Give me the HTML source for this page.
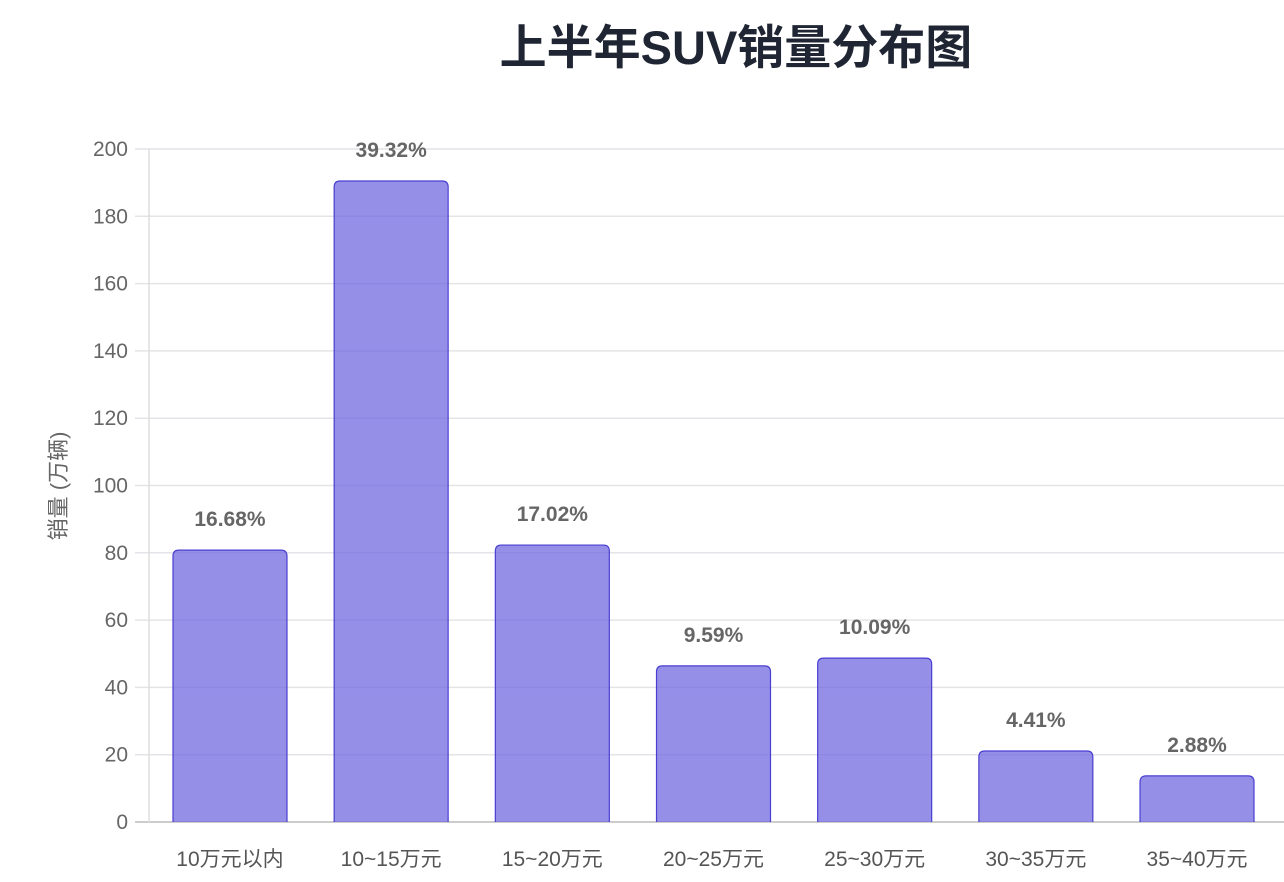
<!DOCTYPE html>
<html><head><meta charset="utf-8"><style>
body{margin:0;background:#fff;}
svg{display:block;font-family:"Liberation Sans","Noto Sans CJK SC",sans-serif;}
</style></head><body>
<svg id="c" width="1284" height="882">
<text x="736" y="64" text-anchor="middle" font-size="47" font-weight="bold" fill="#1f2533">上半年SUV销量分布图</text>
<text transform="translate(66,486) rotate(-90)" text-anchor="middle" font-size="22" fill="#666">销量 (万辆)</text>
<g id="grid"></g><g id="bars"></g><g id="labels"></g>
</svg>
<script>
const categories=["10万元以内","10~15万元","15~20万元","20~25万元","25~30万元","30~35万元","35~40万元"];
const values=[80.8,190.5,82.3,46.4,48.7,21.1,13.7];
const pctLabels=["16.68%","39.32%","17.02%","9.59%","10.09%","4.41%","2.88%"];
const yTicks=[0,20,40,60,80,100,120,140,160,180,200];
const ns="http://www.w3.org/2000/svg";
const L=149.4,R=1277.6,GR=1284,T=149,B=822,yMax=200;
const y=v=>B-(v/yMax)*(B-T);
const band=(R-L)/categories.length;
const xc=i=>L+band*(i+0.5);
function mk(t,a,p){const e=document.createElementNS(ns,t);for(const k in a)e.setAttribute(k,a[k]);p.appendChild(e);return e;}
const g=document.getElementById('grid'),b=document.getElementById('bars'),lb=document.getElementById('labels');
yTicks.forEach(v=>{
 const ln=mk('line',{x1:135,x2:GR,y1:y(v),y2:y(v),stroke:v===0?'#ccc':'#e4e4e8','stroke-width':v===0?2:1.5},g);
 
 
 const t=mk('text',{x:128,y:y(v)+7,'text-anchor':'end','font-size':21,fill:'#666'},g);
 t.textContent=v;
 
 
});
const ax=mk('line',{x1:149,x2:149,y1:T,y2:B,stroke:'#ddd','stroke-width':1.5},g);


const bw=114;
values.forEach((v,i)=>{
 const x=xc(i)-bw/2;
 const r=mk('path',{d:`M${x},${B} V${y(v)+6} Q${x},${y(v)} ${x+6},${y(v)} H${x+bw-6} Q${x+bw},${y(v)} ${x+bw},${y(v)+6} V${B}`,fill:'rgba(109,102,224,0.73)',stroke:'#4a3fd0','stroke-width':1.2},b);
 
 
 const t=mk('text',{x:xc(i),y:y(v)-24,'text-anchor':'middle','font-size':21,'font-weight':'bold',fill:'#666'},lb);
 t.textContent=pctLabels[i];
 
 
 const c=mk('text',{x:xc(i),y:866,'text-anchor':'middle','font-size':21,fill:'#555'},lb);
 c.textContent=categories[i];
 
 
});
</script>
</body></html>
